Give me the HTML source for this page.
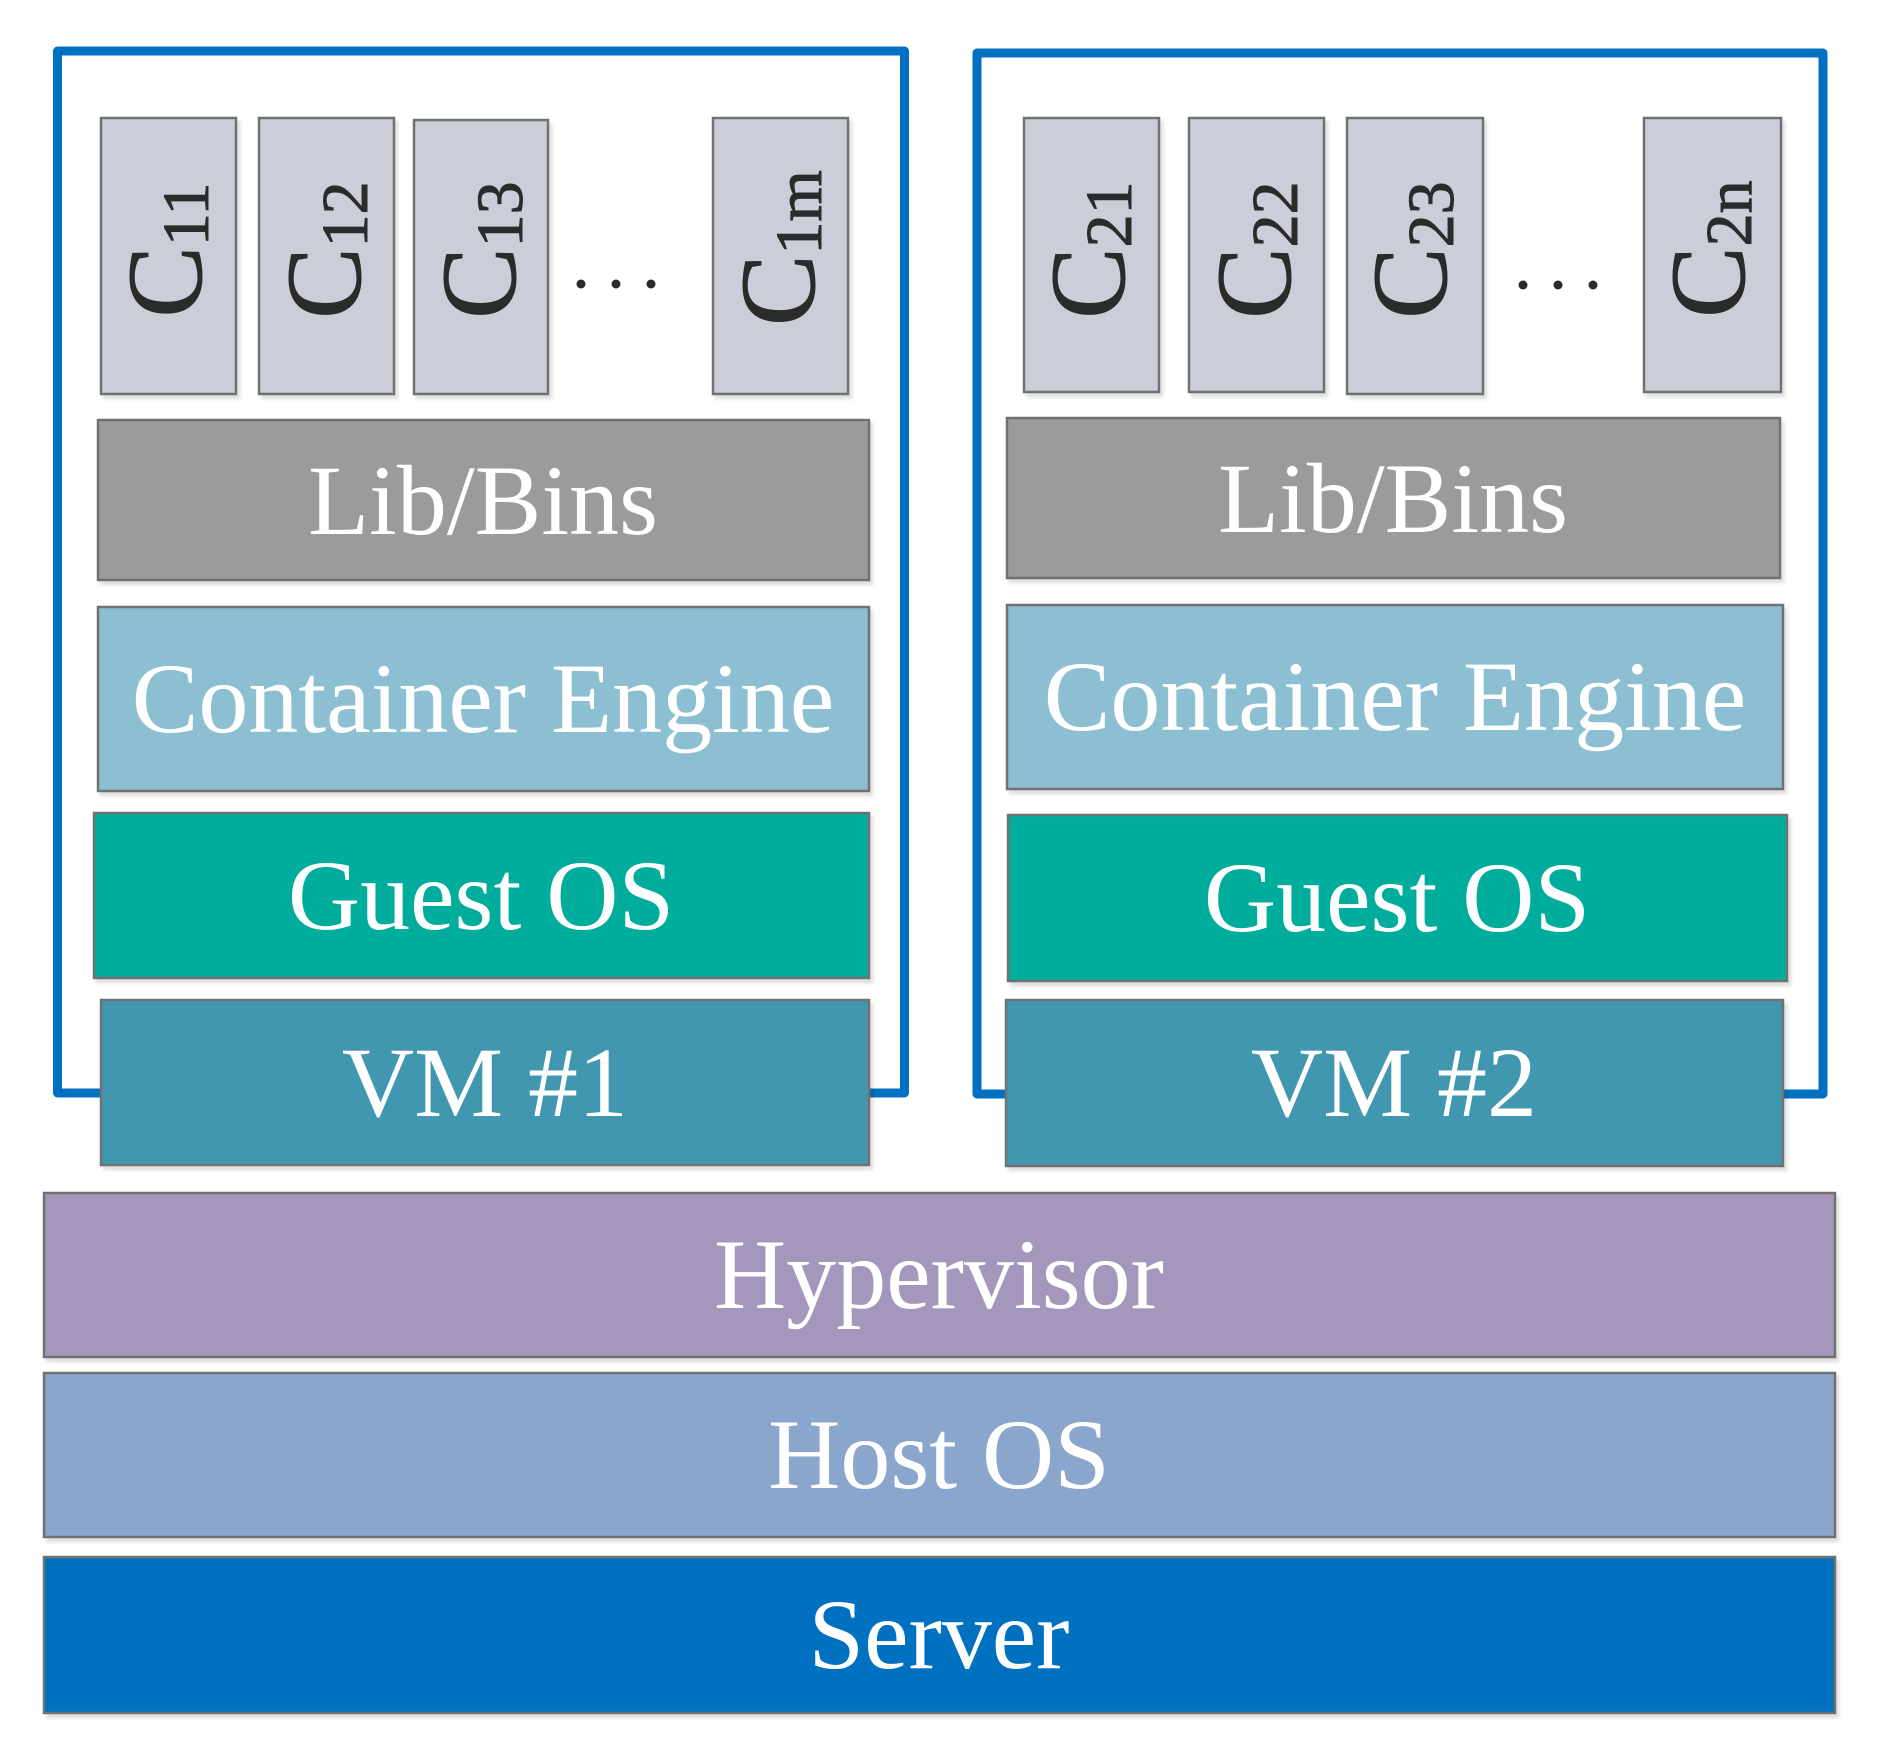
<!DOCTYPE html>
<html><head><meta charset="utf-8"><style>
html,body{margin:0;padding:0;background:#fff;}
svg{display:block;}
text{font-family:"Liberation Serif",serif;}
</style></head><body>
<svg width="1880" height="1757" viewBox="0 0 1880 1757" xmlns="http://www.w3.org/2000/svg">
<defs>
<filter id="sh" x="-5%" y="-5%" width="110%" height="115%"><feDropShadow dx="3" dy="4" stdDeviation="1.5" flood-color="#000" flood-opacity="0.12"/></filter>
</defs>
<path d="M57.5,1093 V51 H904.5 V1093 Z" fill="none" stroke="#0070c0" stroke-width="9" stroke-linejoin="round"/>
<path d="M977,1094 V53 H1823 V1094 Z" fill="none" stroke="#0070c0" stroke-width="9" stroke-linejoin="round"/>

<g stroke="#717171" stroke-width="2.5" filter="url(#sh)">
<rect x="101" y="118" width="135" height="276" fill="#cbced8"/>
<rect x="259" y="118" width="135" height="276" fill="#cbced8"/>
<rect x="414" y="120" width="134" height="274" fill="#cbced8"/>
<rect x="713" y="118" width="135" height="276" fill="#cbced8"/>
<rect x="1024" y="118" width="135" height="274" fill="#cbced8"/>
<rect x="1189" y="118" width="135" height="274" fill="#cbced8"/>
<rect x="1347" y="118" width="136" height="276" fill="#cbced8"/>
<rect x="1644" y="118" width="137" height="274" fill="#cbced8"/>
<rect x="98" y="420" width="771" height="160" fill="#9b9b9b"/>
<rect x="98" y="607" width="771" height="184" fill="#8cbfd2"/>
<rect x="94" y="813" width="775" height="165" fill="#00ad9c"/>
<rect x="101" y="1000" width="768" height="165" fill="#4297b0"/>
<rect x="1007" y="418" width="773" height="160" fill="#9b9b9b"/>
<rect x="1007" y="605" width="776" height="184" fill="#8cbfd2"/>
<rect x="1008" y="815" width="779" height="166" fill="#00ad9c"/>
<rect x="1006" y="1000" width="777" height="166" fill="#4297b0"/>
<rect x="44" y="1193" width="1791" height="164" fill="#a596bb"/>
<rect x="44" y="1373" width="1791" height="164" fill="#8ba6cc"/>
<rect x="44" y="1557" width="1791" height="156" fill="#0070c0"/>
</g>

<g fill="#2b2b2b" stroke="#2b2b2b" stroke-width="1">
<text transform="translate(201,250) rotate(-90)" text-anchor="middle" font-size="107">C<tspan font-size="66" dy="7">11</tspan></text>
<text transform="translate(360,250) rotate(-90)" text-anchor="middle" font-size="107">C<tspan font-size="66" dy="7">12</tspan></text>
<text transform="translate(515,250) rotate(-90)" text-anchor="middle" font-size="107">C<tspan font-size="66" dy="7">13</tspan></text>
<text transform="translate(814,248) rotate(-90)" text-anchor="middle" font-size="107">C<tspan font-size="66" dy="7">1m</tspan></text>
<text transform="translate(1124,250) rotate(-90)" text-anchor="middle" font-size="107">C<tspan font-size="66" dy="7">21</tspan></text>
<text transform="translate(1290,250) rotate(-90)" text-anchor="middle" font-size="107">C<tspan font-size="66" dy="7">22</tspan></text>
<text transform="translate(1446,250) rotate(-90)" text-anchor="middle" font-size="107">C<tspan font-size="66" dy="7">23</tspan></text>
<text transform="translate(1744,249) rotate(-90)" text-anchor="middle" font-size="107">C<tspan font-size="66" dy="7">2n</tspan></text>
</g>
<g fill="#2b2b2b">
<circle cx="581" cy="284" r="4.5"/><circle cx="616" cy="284" r="4.5"/><circle cx="651" cy="284" r="4.5"/>
<circle cx="1523" cy="285" r="4.5"/><circle cx="1558" cy="285" r="4.5"/><circle cx="1593" cy="285" r="4.5"/>
</g>

<g fill="#fff" font-size="100" text-anchor="middle">
<text x="483" y="534">Lib/Bins</text>
<text x="483" y="732">Container Engine</text>
<text x="481" y="929">Guest OS</text>
<text x="485" y="1116">VM #1</text>
<text x="1393" y="532">Lib/Bins</text>
<text x="1395" y="730">Container Engine</text>
<text x="1397" y="931">Guest OS</text>
<text x="1394" y="1116">VM #2</text>
<text x="939" y="1308">Hypervisor</text>
<text x="939" y="1488">Host OS</text>
<text x="939" y="1668">Server</text>
</g>
</svg>
</body></html>
